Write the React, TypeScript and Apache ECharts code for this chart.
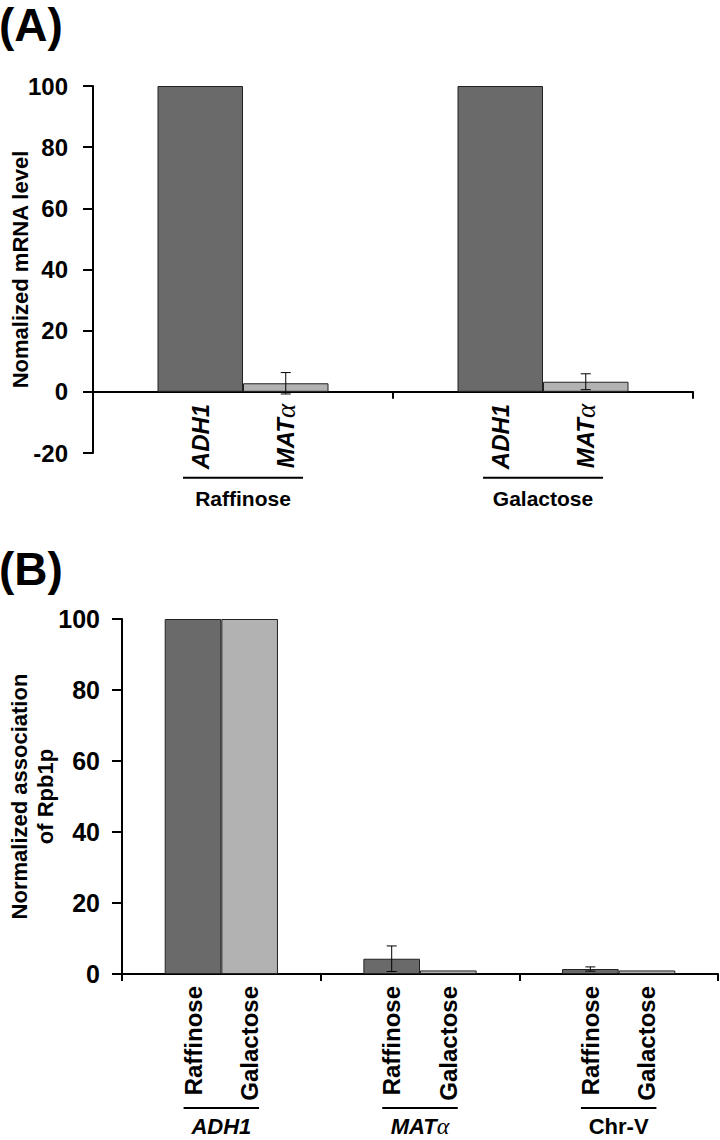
import React, { useEffect, useRef } from "react";
import * as echarts from "echarts";

// Panel A: normalized mRNA level
const mrnaGroups = ["Raffinose", "Galactose"];
const mrnaADH1 = [100, 100];
const mrnaMAT = [2.8, 3.3];
const mrnaMATErr = [3.5, 2.6];
const mrnaMin = -20;
const mrnaMax = 100;
const mrnaStep = 20;

// Panel B: normalized association of Rpb1p
const rpbGenes = ["ADH1", "MATα", "Chr-V"];
const rpbRaffinose = [100, 4.3, 1.4];
const rpbRaffinoseErr = [0, 3.6, 0.6];
const rpbGalactose = [100, 1.0, 1.0];
const rpbMin = 0;
const rpbMax = 100;
const rpbStep = 20;

const FONT = "Liberation Sans";
const DARK = "#6a6a6a";
const LIGHT = "#b2b2b2";

const richLabel = {
  i: { fontFamily: FONT, fontStyle: "italic", fontWeight: "bold", fontSize: 24, lineHeight: 26, color: "#000" },
  a: { fontFamily: "Liberation Serif", fontStyle: "italic", fontWeight: "normal", fontSize: 27, lineHeight: 26, color: "#000" },
  n: { fontFamily: FONT, fontWeight: "bold", fontSize: 24, lineHeight: 26, color: "#000" },
};
const richAxis = {
  i: { fontFamily: FONT, fontStyle: "italic", fontWeight: "bold", fontSize: 22, lineHeight: 22, color: "#000" },
  a: { fontFamily: "Liberation Serif", fontStyle: "italic", fontWeight: "normal", fontSize: 24, lineHeight: 22, color: "#000" },
  n: { fontFamily: FONT, fontWeight: "bold", fontSize: 22, lineHeight: 22, color: "#000" },
};

function geneRich(name: string) {
  if (name === "MATα") return "{i|MAT}{a|α}";
  if (name === "Chr-V") return "{n|Chr-V}";
  return "{i|" + name + "}";
}

const HALF = (1 - 0.43) / 4; // offset of bar centre within band

function errRender(side: number) {
  return (params: any, api: any) => {
    const idx = api.value(0);
    const v = api.value(1);
    const e = api.value(2);
    if (!e) return null;
    const band = api.size([1, 0])[0];
    const base = api.coord([idx, v]);
    const x = base[0] + side * band * HALF;
    const top = api.coord([idx, v + e])[1];
    const bot = api.coord([idx, v - e])[1];
    const cap = 5;
    const st = { stroke: "#000", lineWidth: 1 };
    return {
      type: "group",
      children: [
        { type: "line", shape: { x1: x, y1: top, x2: x, y2: bot }, style: st },
        { type: "line", shape: { x1: x - cap, y1: top, x2: x + cap, y2: top }, style: st },
        { type: "line", shape: { x1: x - cap, y1: bot, x2: x + cap, y2: bot }, style: st },
      ],
    };
  };
}

function bracketRender(offset: number, frac: number) {
  return (params: any, api: any) => {
    const idx = api.value(0);
    const band = api.size([1, 0])[0];
    const p = api.coord([idx, 0]);
    return {
      type: "line",
      shape: { x1: p[0] - band * frac, y1: p[1] + offset, x2: p[0] + band * frac, y2: p[1] + offset },
      style: { stroke: "#000", lineWidth: 2 },
    };
  };
}

export default function App() {
  const ref = useRef<HTMLDivElement>(null);
  useEffect(() => {
    document.body.style.margin = "0";
    const chart = echarts.init(ref.current!, null, { renderer: "svg" });
    const axisLine = { show: true, lineStyle: { color: "#000", width: 2 } };
    const barLabel = (distance: number) => ({
      show: true,
      position: "bottom",
      distance,
      rotate: 90,
      align: "right",
      verticalAlign: "middle",
      rich: richLabel,
    });
    chart.setOption({
      animation: false,
      backgroundColor: "#fff",
      graphic: [
        { type: "text", left: -1, top: 2, style: { text: "(A)", font: "bold 46px 'Liberation Sans'", fill: "#000" } },
        { type: "text", left: -1, top: 546, style: { text: "(B)", font: "bold 46px 'Liberation Sans'", fill: "#000" } },
      ],
      grid: [
        { left: 93, top: 86, width: 600, height: 367, outerBoundsMode: "none", containLabel: false },
        { left: 122, top: 619, width: 596, height: 355, outerBoundsMode: "none", containLabel: false },
      ],
      xAxis: [
        {
          type: "category",
          gridIndex: 0,
          data: mrnaGroups,
          axisLine: { ...axisLine, onZero: true },
          axisTick: { show: true, length: 7, interval: 0, lineStyle: { color: "#000", width: 2 } },
          axisLabel: { interval: 0, margin: 35, fontFamily: FONT, fontWeight: "bold", fontSize: 21, color: "#000" },
          splitLine: { show: false },
        },
        {
          type: "category",
          gridIndex: 1,
          data: rpbGenes,
          axisLine: { ...axisLine, onZero: true },
          axisTick: { show: true, length: 7, interval: 0, lineStyle: { color: "#000", width: 2 } },
          axisLabel: { interval: 0, margin: 141, formatter: (v: string) => geneRich(v), rich: richAxis },
          splitLine: { show: false },
        },
      ],
      yAxis: [
        {
          type: "value",
          gridIndex: 0,
          min: mrnaMin,
          max: mrnaMax,
          interval: mrnaStep,
          axisLine,
          axisTick: { show: true, length: 10, lineStyle: { color: "#000", width: 2 } },
          axisLabel: { margin: 25, fontFamily: FONT, fontWeight: "bold", fontSize: 24, color: "#000" },
          splitLine: { show: false },
          name: "Nomalized mRNA level",
          nameLocation: "middle",
          nameGap: 62,
          nameMoveOverlap: false,
          nameTextStyle: { fontFamily: FONT, fontWeight: "bold", fontSize: 22, color: "#000" },
        },
        {
          type: "value",
          gridIndex: 1,
          min: rpbMin,
          max: rpbMax,
          interval: rpbStep,
          axisLine,
          axisTick: { show: true, length: 10, lineStyle: { color: "#000", width: 2 } },
          axisLabel: { margin: 22, fontFamily: FONT, fontWeight: "bold", fontSize: 25, color: "#000" },
          splitLine: { show: false },
          name: "Normalized association\nof Rpb1p",
          nameLocation: "middle",
          nameGap: 64,
          nameMoveOverlap: false,
          nameTextStyle: { fontFamily: FONT, fontWeight: "bold", fontSize: 22, lineHeight: 26, color: "#000" },
        },
      ],
      series: [
        {
          type: "bar",
          name: "ADH1",
          xAxisIndex: 0,
          yAxisIndex: 0,
          data: mrnaADH1,
          barGap: "0%",
          barCategoryGap: "43%",
          itemStyle: { color: DARK, borderColor: "#222", borderWidth: 1 },
          label: { ...barLabel(12), formatter: () => geneRich("ADH1") },
        },
        {
          type: "bar",
          name: "MATα",
          xAxisIndex: 0,
          yAxisIndex: 0,
          data: mrnaMAT,
          barGap: "0%",
          barCategoryGap: "43%",
          itemStyle: { color: LIGHT, borderColor: "#222", borderWidth: 1 },
          label: { ...barLabel(12), formatter: () => geneRich("MATα") },
        },
        {
          type: "custom",
          xAxisIndex: 0,
          yAxisIndex: 0,
          silent: true,
          z: 5,
          encode: { x: 0, y: 1 },
          data: mrnaMAT.map((v, i) => [i, v, mrnaMATErr[i]]),
          renderItem: errRender(1),
        },
        {
          type: "custom",
          xAxisIndex: 0,
          yAxisIndex: 0,
          silent: true,
          encode: { x: 0, y: 1 },
          data: mrnaGroups.map((_, i) => [i, 0]),
          renderItem: bracketRender(86, 0.2),
        },
        {
          type: "bar",
          name: "Raffinose",
          xAxisIndex: 1,
          yAxisIndex: 1,
          data: rpbRaffinose,
          barGap: "0%",
          barCategoryGap: "43%",
          itemStyle: { color: DARK, borderColor: "#222", borderWidth: 1 },
          label: { ...barLabel(12), formatter: () => "{n|Raffinose}" },
        },
        {
          type: "bar",
          name: "Galactose",
          xAxisIndex: 1,
          yAxisIndex: 1,
          data: rpbGalactose,
          barGap: "0%",
          barCategoryGap: "43%",
          itemStyle: { color: LIGHT, borderColor: "#222", borderWidth: 1 },
          label: { ...barLabel(12), formatter: () => "{n|Galactose}" },
        },
        {
          type: "custom",
          xAxisIndex: 1,
          yAxisIndex: 1,
          silent: true,
          z: 5,
          encode: { x: 0, y: 1 },
          data: rpbRaffinose.map((v, i) => [i, v, rpbRaffinoseErr[i]]),
          renderItem: errRender(-1),
        },
        {
          type: "custom",
          xAxisIndex: 1,
          yAxisIndex: 1,
          silent: true,
          encode: { x: 0, y: 1 },
          data: rpbGenes.map((_, i) => [i, 0]),
          renderItem: bracketRender(134, 0.19),
        },
      ],
    });
    return () => chart.dispose();
  }, []);
  return <div ref={ref} style={{ width: 720, height: 1140 }} />;
}
